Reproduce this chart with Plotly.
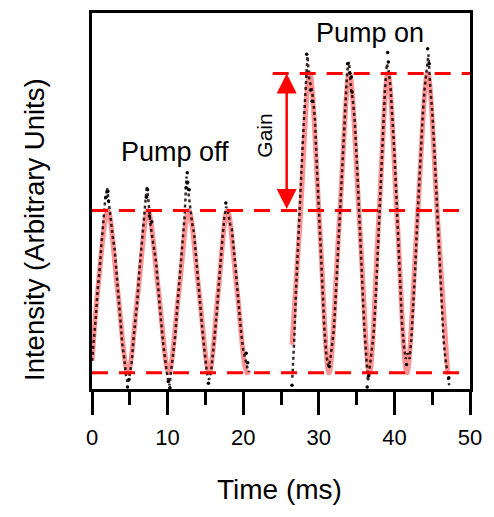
import numpy as np
import plotly.graph_objects as go

# ---------------- data ----------------
# Measured trace, pump off: sampled every 0.25 ms from 0 ms
off_t0, off_dt = 0.0, 0.25
off_values = [7.5, 13.0, 19.0, 26.5, 31.5, 38.5, 44.0, 50.5, 53.5, 49.0,
              44.0, 40.5, 37.0, 30.0, 24.5, 18.5, 12.0, 8.5, 3.5, 1.5,
              4.0, 7.0, 13.5, 18.5, 23.5, 31.0, 37.0, 42.0, 47.0, 54.0,
              49.5, 43.5, 40.0, 36.5, 33.5, 27.0, 20.0, 15.5, 10.5, 6.0,
              3.0, 1.0, 5.5, 10.5, 14.0, 21.0, 27.0, 33.5, 39.5, 46.0,
              56.5, 52.0, 49.0, 44.0, 41.5, 35.0, 30.5, 23.0, 18.0, 12.5,
              7.5, 3.5, 2.5, 4.5, 9.5, 14.5, 20.0, 27.0, 34.5, 40.0,
              45.5, 48.5, 47.0, 44.0, 42.5, 38.0, 32.0, 26.0, 20.0, 14.5,
              10.5, 8.0, 6.0, 4.5]

# Measured trace, pump on: sampled every 0.25 ms from 26.5 ms
on_t0, on_dt = 26.5, 0.25
on_values = [3.0, 13.0, 27.0, 39.0, 51.5, 60.0, 70.5, 78.5, 88.5, 82.0,
             80.5, 77.0, 71.5, 59.0, 48.5, 36.0, 24.0, 15.5, 9.0, 6.0,
             7.5, 12.0, 16.0, 25.0, 35.5, 46.0, 57.0, 67.5, 76.5, 84.5,
             87.0, 80.0, 77.0, 71.5, 62.0, 50.5, 38.0, 27.5, 17.0, 9.5,
             2.0, 6.0, 10.5, 14.5, 23.0, 35.0, 48.0, 60.0, 71.5, 79.5,
             86.5, 84.5, 80.0, 72.5, 63.0, 52.0, 39.5, 27.5, 17.5, 11.5,
             8.0, 9.5, 8.0, 13.5, 22.0, 32.0, 43.5, 54.0, 64.5, 73.0,
             80.0, 84.5, 89.0, 80.0, 74.0, 65.0, 54.5, 43.0, 31.0, 21.5,
             13.0, 8.0, 4.0, 1.0]

# Extra scattered samples around the peaks / troughs
extra_t = [1.85, 2.1, 2.2, 7.2, 7.35, 7.6, 7.9, 12.45, 12.6, 12.65, 12.85, 17.7,
           4.7, 4.9, 10.1, 10.3, 15.4, 20.4, 20.6,
           28.4, 28.6, 28.9, 29.1, 33.8, 34.1, 34.3, 34.4, 39.1, 39.2, 44.4, 44.6,
           36.4, 36.6, 31.4, 41.6, 47.2, 26.45]
extra_v = [51.0, 52.5, 50.0, 51.0, 53.0, 46.0, 44.5, 53.5, 57.5, 55.0, 53.0, 49.5,
           0.5, 2.5, 2.0, 0.3, 1.5, 9.5, 7.0,
           89.0, 84.0, 79.5, 76.5, 86.5, 84.0, 83.0, 79.0, 89.5, 87.0, 90.5, 86.5,
           0.5, 3.5, 6.0, 6.5, 3.0, 1.0]

# Fitted curve key points (peaks, troughs, mid-crossings)
fit_off_t = [0.0, 0.75, 2.1, 3.4, 4.75, 6.1, 7.4, 8.8, 10.15, 11.5, 12.8,
             14.15, 15.5, 16.7, 17.9, 19.2, 20.5, 20.8]
fit_off_v = [7.5, 26.0, 47.5, 26.0, 4.3, 26.0, 47.5, 26.0, 4.3, 26.0, 47.5,
             26.0, 4.3, 26.0, 47.5, 26.0, 4.3, 5.0]
fit_on_t = [26.45, 27.5, 28.8, 30.1, 31.35, 32.7, 34.05, 35.4, 36.7, 37.9,
            39.15, 40.4, 41.65, 43.0, 44.4, 45.75, 47.05]
fit_on_v = [11.8, 44.0, 83.9, 44.0, 4.3, 44.0, 83.9, 44.0, 4.3, 44.0,
            83.9, 44.0, 4.3, 44.0, 83.9, 44.0, 4.3]

# Reference levels
level_trough = 4.3
level_off = 47.5
level_on = 83.9
gain_x = 25.75

x_ticks = [0, 10, 20, 30, 40, 50]

# ---------------- figure ----------------
off_t = off_t0 + off_dt * np.arange(len(off_values))
on_t = on_t0 + on_dt * np.arange(len(on_values))

FONT = "Liberation Sans, Arial, sans-serif"
fig = go.Figure()

for tt, vv in [(fit_off_t, fit_off_v), (fit_on_t, fit_on_v)]:
    fig.add_trace(go.Scatter(x=tt, y=vv, mode="lines",
                             line=dict(color="rgba(255,110,110,0.75)", width=5, shape="spline"),
                             showlegend=False, hoverinfo="skip"))
for tt, vv in [(off_t, off_values), (on_t, on_values)]:
    fig.add_trace(go.Scatter(x=tt, y=vv, mode="lines",
                             line=dict(color="rgba(20,0,0,0.85)", width=2.5, dash="3px,3px"),
                             showlegend=False, hoverinfo="skip"))
fig.add_trace(go.Scatter(x=extra_t, y=extra_v, mode="markers",
                         marker=dict(color="black", size=3.5),
                         showlegend=False, hoverinfo="skip"))

dash = "16px,11px"
for (x0, yv) in [(0, level_trough), (0, level_off), (23.9, level_on)]:
    fig.add_shape(type="line", xref="x", yref="y", x0=x0, x1=50, y0=yv, y1=yv,
                  line=dict(color="#ff0000", width=3, dash=dash))

# Gain arrow
fig.add_annotation(x=gain_x, y=level_on, ax=gain_x, ay=level_off, xref="x", yref="y",
                   axref="x", ayref="y", text="", showarrow=True,
                   arrowhead=2, arrowside="end+start", arrowsize=1.6,
                   arrowwidth=2.5, arrowcolor="#ff0000", standoff=0, startstandoff=0)

fig.add_annotation(x=22.85, y=67.3, xref="x", yref="y", text="Gain", textangle=-90,
                   showarrow=False, font=dict(family=FONT, size=21, color="black"))
fig.add_annotation(x=10.96, y=63.1, xref="x", yref="y", text="Pump off",
                   showarrow=False, font=dict(family=FONT, size=27, color="black"))
fig.add_annotation(x=36.8, y=94.8, xref="x", yref="y", text="Pump on",
                   showarrow=False, font=dict(family=FONT, size=27, color="black"))

# axis titles as annotations
fig.add_annotation(x=-0.154, y=0.425, xref="paper", yref="paper",
                   xanchor="center", yanchor="middle",
                   text="Intensity (Arbitrary Units)", textangle=-90, showarrow=False,
                   font=dict(family=FONT, size=27.5, color="black"))
fig.add_annotation(x=0.496, y=-0.266, xref="paper", yref="paper",
                   xanchor="center", yanchor="middle",
                   text="Time (ms)", showarrow=False,
                   font=dict(family=FONT, size=28, color="black"))

fig.update_xaxes(range=[0, 50], tickvals=x_ticks, ticktext=[str(v) for v in x_ticks],
                 showgrid=False, zeroline=False, showline=True, linecolor="black",
                 linewidth=3, mirror=True, ticks="outside", ticklen=23, tickwidth=3,
                 tickcolor="black", tickfont=dict(family=FONT, size=22, color="black"),
                 ticklabelstandoff=4,
                 minor=dict(dtick=5, tick0=0, ticks="outside", ticklen=13,
                            tickwidth=3, tickcolor="black", showgrid=False))
fig.update_yaxes(range=[0, 100], showgrid=False, zeroline=False, showline=True,
                 linecolor="black", linewidth=3, mirror=True, ticks="",
                 showticklabels=False)

# page body adds an 8 px offset; size and margins compensate for it
fig.update_layout(width=486, height=509, plot_bgcolor="white", paper_bgcolor="white",
                  margin=dict(l=84, r=24, t=2, b=128), showlegend=False)

fig.write_html("out.html")
